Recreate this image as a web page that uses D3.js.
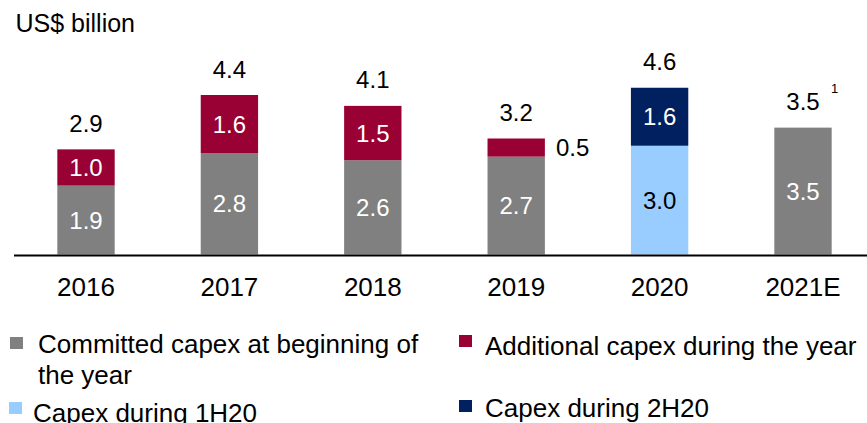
<!DOCTYPE html>
<html>
<head>
<meta charset="utf-8">
<script src="https://cdn.jsdelivr.net/npm/d3@7"></script>
<style>
  html, body { margin: 0; padding: 0; background: #fff; }
  svg { display: block; font-family: "Liberation Sans", Arial, Helvetica, sans-serif; }
</style>
</head>
<body>
<svg id="chart" width="867" height="423"></svg>
<script>
// Capex by year, US$ billion
const years       = ["2016", "2017", "2018", "2019", "2020", "2021E"];
const committed   = [1.9, 2.8, 2.6, 2.7, 0, 3.5];
const additional  = [1.0, 1.6, 1.5, 0.5, 0, 0];
const capex1H20   = [0, 0, 0, 0, 3.0, 0];
const capex2H20   = [0, 0, 0, 0, 1.6, 0];
const totals      = [2.9, 4.4, 4.1, 3.2, 4.6, 3.5];
const footnotes   = ["", "", "", "", "", "1"];

const seriesKeys  = ["committed", "additional", "capex1H20", "capex2H20"];
const seriesNames = [["Committed capex at beginning of", "the year"],
                     ["Additional capex during the year"],
                     ["Capex during 1H20"],
                     ["Capex during 2H20"]];
const seriesColors = ["#808080", "#990033", "#99CCFF", "#002060"];
const labelColors  = ["#ffffff", "#ffffff", "#000000", "#ffffff"];

const rows = years.map((y, i) => ({
  year: y,
  committed: committed[i],
  additional: additional[i],
  capex1H20: capex1H20[i],
  capex2H20: capex2H20[i]
}));

const svg = d3.select("#chart");
const baseY = 254.5;

const x = d3.scaleBand()
  .domain(years)
  .range([13.5, 875.5])
  .paddingInner(0.6)
  .paddingOuter(0.3056);

const y = d3.scaleLinear()
  .domain([0, 5])
  .range([baseY, baseY - 5 * 36.25]);

const stacked = d3.stack().keys(seriesKeys)(rows);

// stacked bars
const layers = svg.append("g").selectAll("g")
  .data(stacked)
  .join("g")
  .attr("fill", (d, i) => seriesColors[i]);

layers.selectAll("rect")
  .data(d => d.filter(s => s[1] - s[0] > 0))
  .join("rect")
  .attr("x", d => x(d.data.year))
  .attr("width", x.bandwidth())
  .attr("y", d => y(d[1]))
  .attr("height", d => y(d[0]) - y(d[1]));

// segment values: inside when there is room, otherwise beside the bar
stacked.forEach((layer, li) => {
  layer.forEach(s => {
    const v = s[1] - s[0];
    if (v <= 0) return;
    const h = y(s[0]) - y(s[1]);
    const mid = (y(s[0]) + y(s[1])) / 2;
    const inside = h >= 25;
    svg.append("text")
      .attr("x", inside ? x(s.data.year) + x.bandwidth() / 2 : x(s.data.year) + x.bandwidth() + 11)
      .attr("y", mid + 8.5)
      .attr("text-anchor", inside ? "middle" : "start")
      .attr("font-size", 24)
      .attr("fill", inside ? labelColors[li] : "#000")
      .text(d3.format(".1f")(v));
  });
});

// totals above bars
svg.append("g").selectAll("text")
  .data(years)
  .join("text")
  .attr("x", d => x(d) + x.bandwidth() / 2)
  .attr("y", (d, i) => y(totals[i]) - 17.5)
  .attr("text-anchor", "middle")
  .attr("font-size", 24)
  .attr("fill", "#000")
  .text((d, i) => d3.format(".1f")(totals[i]));

// footnote markers
svg.append("g").selectAll("text")
  .data(years.filter((d, i) => footnotes[i]))
  .join("text")
  .attr("x", d => x(d) + x.bandwidth() / 2 + 28)
  .attr("y", d => y(totals[years.indexOf(d)]) - 34.5)
  .attr("font-size", 13)
  .attr("fill", "#000")
  .text(d => footnotes[years.indexOf(d)]);

// category axis
const axis = svg.append("g")
  .attr("transform", `translate(0,${baseY + 0.5})`)
  .call(d3.axisBottom(x).tickSize(0).tickPadding(0));
axis.select(".domain").attr("stroke", "#000").attr("stroke-width", 2);
axis.selectAll(".tick text")
  .attr("y", 41)
  .attr("dy", null)
  .attr("font-size", 26)
  .attr("font-family", "Liberation Sans, Arial, sans-serif")
  .attr("fill", "#000");

// unit title
svg.append("text")
  .attr("x", 15.5)
  .attr("y", 32)
  .attr("font-size", 25)
  .attr("fill", "#000")
  .text("US$ billion");

// legend
const legendPos = [
  { sx: 10,  sy: 337,   tx: 38,  ty: 352.5 },
  { sx: 459, sy: 335,   tx: 485, ty: 355 },
  { sx: 9,   sy: 402,   tx: 33,  ty: 422 },
  { sx: 459, sy: 400,   tx: 485, ty: 417 }
];
const legend = svg.append("g").selectAll("g")
  .data(seriesNames)
  .join("g");
legend.append("rect")
  .attr("x", (d, i) => legendPos[i].sx)
  .attr("y", (d, i) => legendPos[i].sy)
  .attr("width", 13)
  .attr("height", 12)
  .attr("fill", (d, i) => seriesColors[i]);
legend.append("text")
  .attr("font-size", 26)
  .attr("fill", "#000")
  .each(function(lines, i) {
    const t = d3.select(this);
    lines.forEach((line, k) => {
      t.append("tspan")
        .attr("x", legendPos[i].tx)
        .attr("y", legendPos[i].ty + k * 31)
        .text(line);
    });
  });
</script>
</body>
</html>
